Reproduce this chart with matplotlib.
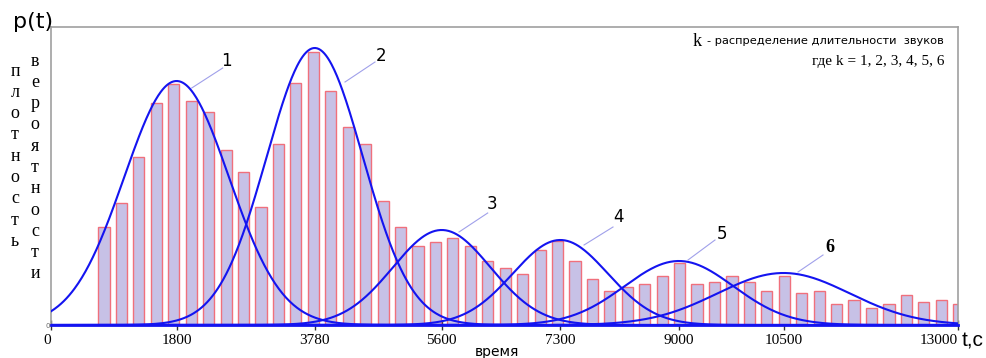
import numpy as np
import matplotlib.pyplot as plt

# histogram of sound durations (bin centres in t,c and bar heights)
bin_centres = [760, 1010, 1260, 1510, 1760, 2010, 2260, 2510, 2760, 3010,
               3260, 3510, 3760, 4010, 4260, 4510, 4760, 5010, 5260, 5510,
               5760, 6010, 6260, 6510, 6760, 7010, 7260, 7510, 7760, 8010,
               8260, 8510, 8760, 9010, 9260, 9510, 9760, 10010, 10260, 10510,
               10760, 11010, 11260, 11510, 11760, 12010, 12260, 12510, 12760, 13010]
bar_heights = [98, 122, 168, 222, 241, 224, 213, 175, 153, 118,
               181, 242, 273, 234, 198, 181, 124, 98, 79, 83,
               87, 79, 64, 57, 51, 75, 84, 64, 46, 34,
               38, 41, 49, 62, 41, 43, 49, 43, 34, 49,
               32, 34, 21, 25, 17, 21, 30, 23, 25, 21]

# fitted normal curves k = 1..6
curve_labels = ['1', '2', '3', '4', '5', '6']
curve_mu = [1800, 3780, 5600, 7300, 9000, 10500]
curve_sigma = [750, 690, 700, 680, 780, 950]
curve_amp = [244, 277, 95, 85, 64, 52]

# where the curve numbers sit (text pos, leader start, leader end)
label_xy = [(2508, 264), (4730, 269), (6321, 121), (8141, 108), (9617, 91), (11165, 77)]
leader_from = [(2017, 237), (4214, 243), (5848, 93), (7640, 80), (9130, 65), (10707, 53)]
leader_to = [(2461, 257), (4644, 263), (6259, 112), (8055, 98), (9517, 85), (11065, 70)]

x_ticks = [0, 1800, 3780, 5600, 7300, 9000, 10500, 13000]

W, H = 986, 358
fig = plt.figure(figsize=(W / 100, H / 100), dpi=100)
ax = fig.add_axes([51 / W, 1 - 325 / H, (958 - 51) / W, (325 - 27) / H])

ax.bar(bin_centres, bar_heights, width=160, color='#c7c1e6',
       edgecolor='#f0707c', linewidth=1.0, zorder=2)

t = np.linspace(0, 13000, 1000)
for mu, s, a in zip(curve_mu, curve_sigma, curve_amp):
    ax.plot(t, a * np.exp(-(t - mu) ** 2 / (2 * s ** 2)), color='#1414f0', lw=1.5, zorder=3)

for lab, xy, p0, p1 in zip(curve_labels, label_xy, leader_from, leader_to):
    ax.plot([p0[0], p1[0]], [p0[1], p1[1]], color='#a0a0ea', lw=0.8, zorder=3)
    if lab == '6':
        ax.text(xy[0], xy[1], lab, ha='center', va='center', fontsize=13,
                family='Liberation Serif', weight='bold')
    else:
        ax.text(xy[0], xy[1], lab, ha='center', va='center', fontsize=12,
                family='DejaVu Sans')

ax.set_xlim(0, 13000)
ax.set_ylim(0, 298)
ax.set_xticks(x_ticks)
ax.set_xticklabels([str(v) for v in x_ticks], family='Liberation Serif', fontsize=11)
xl = ax.get_xticklabels()
xl[0].set_ha('right')
xl[-1].set_ha('right')
ax.set_yticks([0])
ax.set_yticklabels(['0'], fontsize=5, color='#666666')
ax.tick_params(axis='x', direction='inout', length=7, width=1, color='#333333', pad=3)
ax.tick_params(axis='y', length=0, pad=1)
for side in ['left', 'top', 'right']:
    ax.spines[side].set_color('#a0a0a0')
    ax.spines[side].set_linewidth(1.2)
ax.spines['bottom'].set_color('#1414f0')
ax.spines['bottom'].set_linewidth(2)

# axis captions
fig.text(33 / W, 1 - 22 / H, 'p(t)', ha='center', va='center', fontsize=16, family='DejaVu Sans')
fig.text(962 / W, 1 - 341 / H, 't,c', ha='left', va='center', fontsize=15, family='Liberation Sans')
fig.text(497 / W, 1 - 352 / H, 'время', ha='center', va='center', fontsize=10, family='DejaVu Sans')

word1 = 'плотность'
word2 = 'вероятности'
for i, ch in enumerate(word1):
    fig.text(15 / W, 1 - (71 + i * 21.3) / H, ch, ha='center', va='center',
             fontsize=13, family='Liberation Serif')
for i, ch in enumerate(word2):
    fig.text(35 / W, 1 - (61 + i * 21.3) / H, ch, ha='center', va='center',
             fontsize=13, family='Liberation Serif')

# legend note
fig.text(697 / W, 1 - 41 / H, 'k', ha='center', va='center', fontsize=13, family='Liberation Serif')
fig.text(707 / W, 1 - 41 / H, '- распределение длительности  звуков', ha='left', va='center',
         fontsize=8.2, family='DejaVu Sans')
fig.text(945 / W, 1 - 62 / H, 'где k = 1, 2, 3, 4, 5, 6', ha='right', va='center',
         fontsize=11, family='Liberation Serif')

fig.savefig('out.png', dpi=100)
